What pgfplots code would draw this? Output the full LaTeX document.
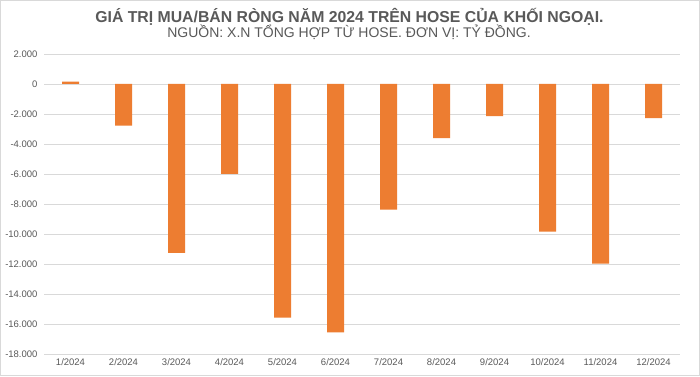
\documentclass[border=0pt]{standalone}
\usepackage{pgfplots}
\pgfplotsset{compat=1.18}
\usepackage{fontspec}
\setmainfont{Liberation Sans}
\definecolor{barc}{HTML}{ED7D31}
\definecolor{txt}{HTML}{595959}
\definecolor{gridc}{HTML}{D9D9D9}
\definecolor{framec}{HTML}{D9D9D9}
\begin{document}
\begin{tikzpicture}[x=1bp,y=1bp]
\fill[white] (0,0) rectangle (700,376);
\draw[framec, line width=1bp] (0.5,0.5) rectangle (699.5,375.5);
\node[anchor=base, text=txt, font=\fontsize{15.8bp}{18bp}\selectfont\bfseries] at (349.5,353.3) {GIÁ TRỊ MUA/BÁN RÒNG NĂM 2024 TRÊN HOSE CỦA KHỐI NGOẠI.};
\node[anchor=base, text=txt, font=\fontsize{14bp}{16bp}\selectfont] at (349,338.7) {NGUỒN: X.N TỔNG HỢP TỪ HOSE. ĐƠN VỊ: TỶ ĐỒNG.};
\begin{axis}[
  at={(44bp,22bp)}, anchor=south west,
  scale only axis, width=636bp, height=300bp,
  xmin=-0.5, xmax=11.5,
  ymin=-18000, ymax=2000,
  ytick={-18000,-16000,...,2000},
  xtick=data,
  xticklabels={1/2024,2/2024,3/2024,4/2024,5/2024,6/2024,7/2024,8/2024,9/2024,10/2024,11/2024,12/2024},
  scaled y ticks=false,
  /pgf/number format/.cd, 1000 sep={.}, assume math mode=true,
  /pgfplots/.cd,
  axis line style={draw=none},
  major tick style={draw=none},
  ymajorgrids, grid style={gridc, line width=0.75bp},
  tick label style={text=txt, font=\fontsize{9.5bp}{11bp}\selectfont},
  yticklabel style={anchor=east, xshift=-3bp},
  xticklabel style={anchor=north, yshift=-1bp},
  clip=false,
]
\addplot[ybar, bar width=17bp, fill=barc, draw=none] coordinates {
(0,150) (1,-2770) (2,-11260) (3,-5990) (4,-15580) (5,-16560)
(6,-8370) (7,-3600) (8,-2140) (9,-9840) (10,-11980) (11,-2270)
};
\end{axis}
\end{tikzpicture}
\end{document}
